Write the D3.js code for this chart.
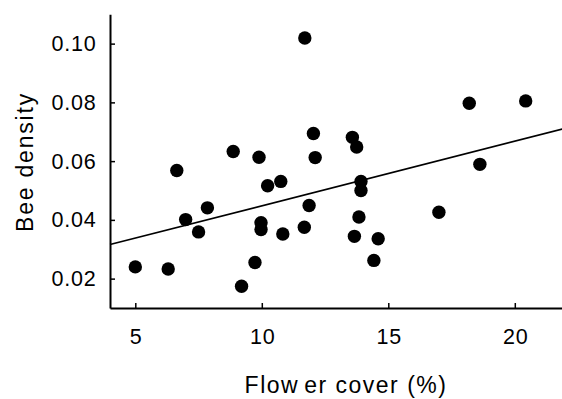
<!DOCTYPE html>
<html>
<head>
<meta charset="utf-8">
<script src="https://cdn.jsdelivr.net/npm/d3@7"></script>
<style>
  html, body { margin: 0; padding: 0; background: #fff; }
  svg { display: block; font-family: "Liberation Sans", Arial, sans-serif; }
</style>
</head>
<body>
<svg id="chart" width="562" height="399"></svg>
<script>
// Flower cover (%) for each site
const flowerCover = [5.0, 6.3, 6.64, 6.99, 7.5, 7.85, 8.87, 9.2, 9.73, 9.89, 9.97, 9.97,
  10.23, 10.75, 10.83, 11.68, 11.70, 11.87, 12.04, 12.11, 13.58, 13.66, 13.75, 13.84,
  13.92, 13.92, 14.43, 14.6, 17.0, 18.2, 18.62, 20.43];
// Bee density for each site
const beeDensity = [0.0240, 0.0233, 0.0568, 0.0401, 0.0359, 0.0441, 0.0633, 0.0174, 0.0255, 0.0613, 0.0390, 0.0367,
  0.0516, 0.0531, 0.0352, 0.0375, 0.1019, 0.0449, 0.0694, 0.0612, 0.0681, 0.0344, 0.0648, 0.0410,
  0.0531, 0.0500, 0.0262, 0.0336, 0.0426, 0.0797, 0.0589, 0.0805];
// Regression line end points [x, y]
const fitX = [4, 22];
const fitY = [0.0316, 0.0712];
// Tick values
const xTicks = [5, 10, 15, 20];
const yTicks = [0.02, 0.04, 0.06, 0.08, 0.10];

const svg = d3.select("#chart");
const x = d3.scaleLinear().domain([4, 22]).range([110, 565.4]);
const y = d3.scaleLinear().domain([0.01, 0.11]).range([308, 14.25]);

// Regression line
svg.append("path")
  .datum(fitX.map((v, i) => [v, fitY[i]]))
  .attr("fill", "none")
  .attr("stroke", "#000")
  .attr("stroke-width", 1.7)
  .attr("d", d3.line().x(d => x(d[0])).y(d => y(d[1])));

// Points
svg.append("g").selectAll("circle")
  .data(flowerCover.map((v, i) => [v, beeDensity[i]]))
  .join("circle")
  .attr("cx", d => x(d[0]))
  .attr("cy", d => y(d[1]))
  .attr("r", 6.7)
  .attr("fill", "#000");

// Axes
const xAxis = svg.append("g")
  .attr("transform", "translate(0,308)")
  .call(d3.axisBottom(x).tickValues(xTicks).tickFormat(d3.format("d")).tickSizeInner(-5).tickSizeOuter(0));
const yAxis = svg.append("g")
  .attr("transform", "translate(110,0)")
  .call(d3.axisLeft(y).tickValues(yTicks).tickFormat(d3.format(".2f")).tickSizeInner(-5).tickSizeOuter(0));

[xAxis, yAxis].forEach(g => {
  g.select(".domain").attr("stroke", "#000").attr("stroke-width", 2);
  g.selectAll(".tick line").attr("stroke", "#000").attr("stroke-width", 1.5);
  g.selectAll(".tick text").attr("fill", "#000").style("font-size", "21.5px")
    .style("font-family", "'Liberation Sans', Arial, sans-serif").style("letter-spacing", "0.8px");
});
xAxis.selectAll(".tick text").attr("dy", "0.71em").attr("y", 21).attr("dx", "0.4");
yAxis.selectAll(".tick text").attr("x", -13.5);

// Axis titles
const xt = svg.append("text")
  .attr("x", 346).attr("y", 393)
  .attr("text-anchor", "middle")
  .style("font-size", "23px")
  .style("letter-spacing", "1.5px");
xt.append("tspan").text("Flow");
xt.append("tspan").attr("dx", 5).text("er cover (%)");

svg.append("text")
  .attr("transform", "translate(33,162) rotate(-90)")
  .attr("text-anchor", "middle")
  .style("font-size", "23px")
  .style("letter-spacing", "1.8px")
  .text("Bee density");
</script>
</body>
</html>
